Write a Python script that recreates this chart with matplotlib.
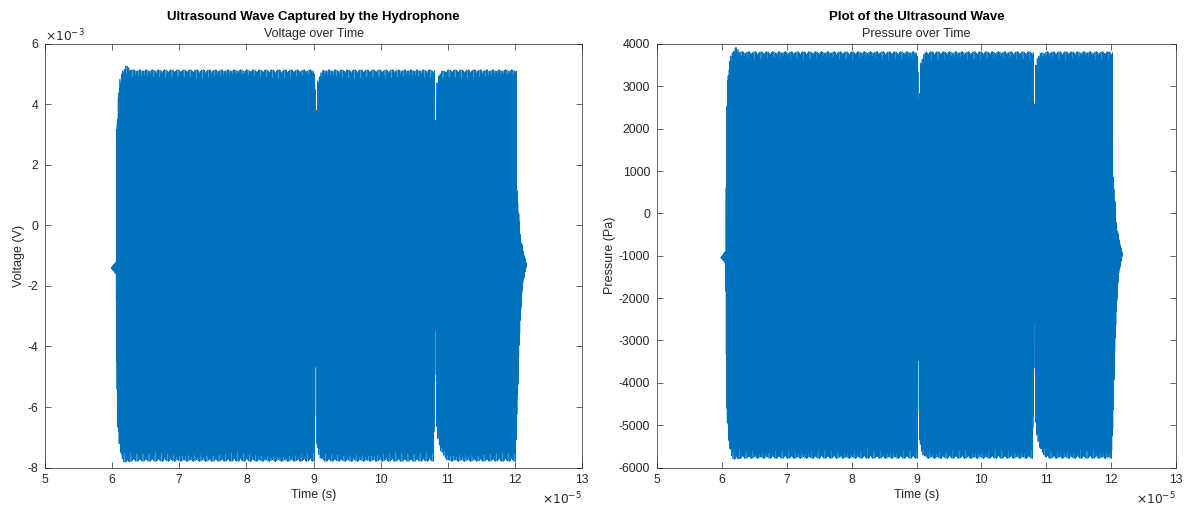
import numpy as np
import matplotlib
matplotlib.use("Agg")
import matplotlib.pyplot as plt
from matplotlib.ticker import MultipleLocator, FuncFormatter

# ---- values ----
# burst envelope knots (time in units of 1e-5 s, envelope in mV)
knot_time = [5.985, 6.04, 6.06, 6.07, 6.09, 6.12, 6.16, 6.21, 6.30,
             9.018, 9.033, 9.041, 9.052, 9.065, 9.10, 9.15,
             10.798, 10.813, 10.821, 10.832, 10.845, 10.90, 11.00,
             12.018, 12.03, 12.08, 12.12, 12.175]
upper_mV = [-1.40, -1.25, -1.20, 3.2, 4.3, 4.9, 5.15, 5.30, 5.15,
            5.15, 3.25, 3.25, 4.3, 4.8, 5.05, 5.15,
            5.15, 3.4, 3.4, 4.4, 4.9, 5.1, 5.15,
            5.15, 1.4, -0.3, -0.8, -1.3]
lower_mV = [-1.40, -1.55, -1.60, -6.0, -7.0, -7.5, -7.8, -7.85, -7.8,
            -7.8, -2.6, -2.6, -7.3, -7.5, -7.7, -7.8,
            -7.8, -2.9, -2.9, -6.7, -7.0, -7.5, -7.8,
            -7.8, -6.4, -3.1, -1.9, -1.3]
carrier_MHz = 19.0983          # ultrasound carrier
sample_rate_MHz = 100.0        # acquisition rate
sensitivity_Pa_per_V = 7.42e5  # hydrophone conversion

titles = ["Ultrasound Wave Captured by the Hydrophone", "Plot of the Ultrasound Wave"]
subtitles = ["Voltage over Time", "Pressure over Time"]
ylabels = ["Voltage (V)", "Pressure (Pa)"]
xlabel = "Time (s)"
x_limits = (5e-5, 13e-5)
y_limits = [(-8e-3, 6e-3), (-6000, 4000)]
y_steps = [2e-3, 1000]
y_scales = [1e-3, 1.0]

# ---- build the captured waveform ----
kt = np.array(knot_time) * 1e-5
t = np.arange(kt[0], kt[-1], 1.0 / (sample_rate_MHz * 1e6))
up = np.interp(t, kt, upper_mV) * 1e-3
lo = np.interp(t, kt, lower_mV) * 1e-3
voltage = (up + lo) / 2 + (up - lo) / 2 * np.sin(2 * np.pi * carrier_MHz * 1e6 * t)
pressure = voltage * sensitivity_Pa_per_V
series = [voltage, pressure]

plt.rcParams['font.family'] = ['Liberation Sans', 'DejaVu Sans']
plt.rcParams['axes.unicode_minus'] = False
color = '#0072BD'
dark = '#262626'

fig = plt.figure(figsize=(11.87, 5.09), dpi=100)
W, H = 1187, 509
boxes = [(45, 582), (657, 1176)]
top_px, bot_px = 44, 467.5
for i, (l, r) in enumerate(boxes):
    ax = fig.add_axes([l / W, (H - bot_px) / H, (r - l) / W, (bot_px - top_px) / H])
    ax.plot(t, series[i], color=color, lw=0.55)
    ax.set_xlim(*x_limits)
    ax.set_ylim(*y_limits[i])
    ax.xaxis.set_major_locator(MultipleLocator(1e-5))
    ax.yaxis.set_major_locator(MultipleLocator(y_steps[i]))
    ax.xaxis.set_major_formatter(FuncFormatter(lambda v, p: f"{round(v / 1e-5):d}"))
    sc = y_scales[i]
    ax.yaxis.set_major_formatter(FuncFormatter(lambda v, p, sc=sc: f"{round(v / sc):d}"))
    ax.tick_params(direction='in', top=True, right=True, length=4, width=0.5,
                   colors=dark, labelsize=8.8, pad=5)
    for s in ax.spines.values():
        s.set_linewidth(0.5)
        s.set_color(dark)
    ax.set_xlabel(xlabel, fontsize=9, color=dark, labelpad=2)
    ax.set_ylabel(ylabels[i], fontsize=9, color=dark, labelpad=2)
    fig.text(r / W, 1 - 499 / H, r"$\times10^{-5}$", ha='right', va='center',
             fontsize=8.8, color=dark)
    if i == 0:
        fig.text(l / W, 1 - 36 / H, r"$\times10^{-3}$", ha='left', va='center',
                 fontsize=8.8, color=dark)
    cx = (l + r) / 2 / W
    fig.text(cx, 1 - 17 / H, titles[i], ha='center', va='center',
             fontsize=9.5, fontweight='bold', color='black')
    fig.text(cx, 1 - 34 / H, subtitles[i], ha='center', va='center',
             fontsize=9, color=dark)

fig.savefig('out.png', dpi=100)
